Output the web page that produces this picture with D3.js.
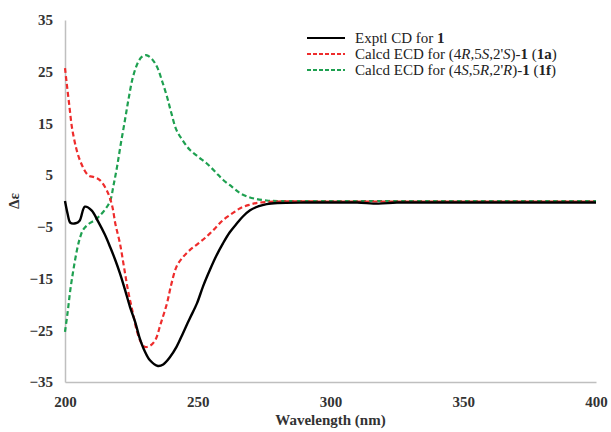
<!DOCTYPE html>
<html>
<head>
<meta charset="utf-8">
<script src="https://cdn.jsdelivr.net/npm/d3@7"></script>
<style>
  body { margin: 0; background: #fff; }
  svg text { font-family: "Liberation Serif", "Times New Roman", serif !important; }
  .tick text { font-weight: bold; font-size: 15px; fill: #333; }
  .axis path { stroke: #bfbfbf; stroke-width: 1.5; }
</style>
</head>
<body>
<div id="chart"></div>
<script>
// wavelength (nm) / delta epsilon readings
var exptlWl  = [200, 201, 202, 204, 205.5, 207.5, 210, 212.5, 215, 217, 219, 220.7, 222.5, 224.5, 226.5, 228, 230, 232, 235, 237, 239.5, 242, 244.4, 247, 249.7, 252, 254.6, 257, 259.5, 262, 264.8, 267, 269.7, 273, 276, 280, 290, 300, 310, 318, 325, 340, 355, 370, 385, 400];
var exptlVal = [0, -2.5, -4.2, -4.3, -3.8, -1.1, -1.8, -4.0, -6.5, -8.9, -11.5, -14, -17, -20.5, -23.5, -26.3, -29, -30.8, -31.9, -31.6, -30.2, -28.2, -25.6, -22.7, -19.8, -16.5, -13.3, -10.6, -8.2, -6.1, -4.3, -3.0, -1.8, -1.0, -0.6, -0.4, -0.3, -0.3, -0.3, -0.5, -0.3, -0.3, -0.3, -0.3, -0.3, -0.3];

var redWl  = [200, 201.5, 203, 205.6, 208.7, 211, 213, 215.7, 217.7, 219, 220.7, 222.2, 223.7, 225.5, 227, 228.5, 230, 232, 234, 236, 238.4, 240, 242, 244.5, 247, 250, 253.3, 256.5, 259.5, 263, 266, 269, 272, 276, 280, 300, 330, 360, 400];
var redVal = [25.7, 19, 13.1, 7.9, 5.0, 4.6, 4.1, 2.1, -0.8, -4.5, -8.2, -12.7, -17.2, -21.5, -25, -27.2, -28.2, -28, -26.9, -23.8, -19.8, -16.2, -12.7, -10.8, -9.5, -8.3, -6.9, -5.3, -3.7, -2.4, -1.4, -0.8, -0.4, -0.2, -0.1, -0.1, -0.1, -0.1, -0.1];

var greenWl  = [200, 201, 202, 203.2, 204.5, 205.6, 206.8, 209, 211.3, 213, 215, 217, 218.3, 219.6, 221, 222.6, 224, 225.6, 227.5, 229, 230.5, 232.5, 234.6, 236.5, 238.4, 240, 242, 244.5, 247, 250, 253.3, 256.5, 259.5, 263, 266, 269, 272, 276, 280, 300, 330, 360, 400];
var greenVal = [-25.3, -21.5, -17.2, -13.2, -9.5, -7.2, -5.6, -4.4, -3.7, -2.9, -1.7, 0, 3.1, 6.6, 11, 15.7, 19.9, 24, 26.8, 27.9, 28.2, 27.6, 26, 23.3, 20.2, 17.1, 13.7, 11.6, 9.9, 8.6, 7.3, 5.7, 4.1, 2.7, 1.5, 0.8, 0.4, 0.1, 0, 0, 0, 0, 0];

var series = [
  {name: "exptl", wl: exptlWl, val: exptlVal, color: "#000000", dash: null, width: 2.4},
  {name: "red", wl: redWl, val: redVal, color: "#ee2c2c", dash: "5,3", width: 2.2},
  {name: "green", wl: greenWl, val: greenVal, color: "#1ea050", dash: "5,3", width: 2.2}
];

var xTicks = [200, 250, 300, 350, 400];
var yTicks = [35, 25, 15, 5, -5, -15, -25, -35];

var width = 611, height = 432;
var margin = {top: 20, right: 15, bottom: 50, left: 65};
var w = width - margin.left - margin.right,
    h = height - margin.top - margin.bottom;

var x = d3.scaleLinear().domain([200, 400]).range([0, w]);
var y = d3.scaleLinear().domain([-35, 35]).range([h, 0]);

var svg = d3.select("#chart")
    .append("svg")
    .attr("width", width)
    .attr("height", height)
    .append("g")
    .attr("transform", "translate(" + margin.left + "," + margin.top + ")");

// axes, no tick marks
var xAxis = d3.axisBottom(x).tickValues(xTicks).tickSize(0).tickPadding(12);
var yAxis = d3.axisLeft(y).tickValues(yTicks).tickSize(0).tickPadding(12);

svg.append("g")
    .attr("class", "x axis")
    .attr("transform", "translate(0," + h + ")")
    .call(xAxis);

svg.append("g")
    .attr("class", "y axis")
    .call(yAxis);

svg.selectAll(".axis").attr("font-family", "Liberation Serif").attr("font-size", 15);
svg.selectAll(".x.axis .tick text").attr("dy", "0.85em");

var line = d3.line()
    .x(function(d) { return x(d[0]); })
    .y(function(d) { return y(d[1]); })
    .curve(d3.curveCatmullRom);

// draw green, red, then black on top
[series[2], series[1], series[0]].forEach(function(s) {
  var pts = s.wl.map(function(v, i) { return [v, s.val[i]]; });
  svg.append("path")
      .attr("class", "line")
      .attr("d", line(pts))
      .attr("fill", "none")
      .attr("stroke", s.color)
      .attr("stroke-width", s.width)
      .attr("stroke-dasharray", s.dash);
});

// axis titles
svg.append("text")
    .attr("x", w / 2)
    .attr("y", h + 43)
    .attr("text-anchor", "middle")
    .style("font-weight", "bold")
    .style("font-size", "15px")
    .style("fill", "#333")
    .text("Wavelength (nm)");

svg.append("text")
    .attr("transform", "translate(" + (-46) + "," + (h / 2) + ") rotate(-90)")
    .attr("text-anchor", "middle")
    .style("font-weight", "bold")
    .style("font-size", "15px")
    .style("fill", "#333")
    .text("Δε");

// legend
var legend = svg.append("g").attr("transform", "translate(242,18)");
var legendRows = [
  {s: series[0], parts: [["Exptl CD for ", ""], ["1", "bold"]]},
  {s: series[1], parts: [["Calcd ECD for (4", ""], ["R", "italic"], [",5", ""], ["S", "italic"], [",2'", ""], ["S", "italic"], [")-", ""], ["1", "bold"], [" (", ""], ["1a", "bold"], [")", ""]]},
  {s: series[2], parts: [["Calcd ECD for (4", ""], ["S", "italic"], [",5", ""], ["R", "italic"], [",2'", ""], ["R", "italic"], [")-", ""], ["1", "bold"], [" (", ""], ["1f", "bold"], [")", ""]]}
];
legendRows.forEach(function(r, i) {
  var g = legend.append("g").attr("transform", "translate(0," + (i * 16) + ")");
  g.append("line")
      .attr("x1", 0).attr("x2", 38)
      .attr("y1", 0).attr("y2", 0)
      .attr("stroke", r.s.color)
      .attr("stroke-width", r.s.name === "exptl" ? 2.2 : 1.8)
      .attr("stroke-dasharray", r.s.name === "exptl" ? null : "4,2");
  var t = g.append("text")
      .attr("x", 48).attr("y", 5)
      .style("font-size", "15px")
      .style("fill", "#222");
  r.parts.forEach(function(p) {
    var ts = t.append("tspan").text(p[0]);
    if (p[1] === "bold") ts.style("font-weight", "bold");
    if (p[1] === "italic") ts.style("font-style", "italic");
  });
});
</script>
</body>
</html>
